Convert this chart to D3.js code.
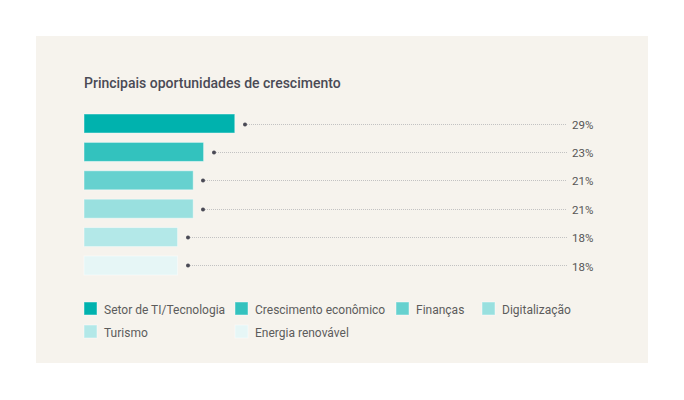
<!DOCTYPE html>
<html>
<head>
<meta charset="utf-8">
<script src="https://cdn.jsdelivr.net/npm/d3@7"></script>
<style>
  html, body { margin: 0; padding: 0; background: #fff; }
  svg { display: block; font-family: Roboto, "Noto Sans", sans-serif; }
  .title { font-size: 14px; font-weight: 500; fill: #4a4a55; }
  .value { font-size: 11.5px; fill: #555; }
  .legend text { font-size: 12px; fill: #5c5c5c; }
</style>
</head>
<body>
<svg class="chart" width="684" height="400"></svg>
<script>
(function () {
  "use strict";

  const categories = ["Setor de TI/Tecnologia", "Crescimento econômico", "Finanças", "Digitalização", "Turismo", "Energia renovável"];
  const values = [29, 23, 21, 21, 18, 18];
  const colors = ["#00b2ae", "#33c2be", "#66d1cf", "#99e0df", "#b3e8e8", "#e6f6f6"];
  const title = "Principais oportunidades de crescimento";

  const svg = d3.select(".chart");
  const data = categories.map((c, i) => ({ name: c, value: values[i], color: colors[i] }));

  // panel
  svg.append("rect")
    .attr("x", 36).attr("y", 36)
    .attr("width", 612).attr("height", 327)
    .attr("fill", "#f6f3ed");

  svg.append("text")
    .attr("class", "title")
    .attr("x", 84).attr("y", 88)
    .text(title);

  const x = d3.scaleLinear().domain([0, 100]).range([84, 604]);
  const y = d3.scaleBand()
    .domain(categories)
    .range([114, 275])
    .paddingInner(0.33)
    .paddingOuter(0);

  const lineEnd = 567;
  const mid = d => Math.round(y(d.name) + y.bandwidth() / 2) + 0.5;

  const rows = svg.selectAll(".row")
    .data(data)
    .join("g")
    .attr("class", "row");

  rows.append("rect")
    .attr("x", x(0))
    .attr("y", d => y(d.name))
    .attr("width", d => x(d.value) - x(0))
    .attr("height", y.bandwidth())
    .attr("fill", d => d.color)
    .attr("stroke", "rgba(255,255,255,0.45)")
    .attr("stroke-width", 1);

  rows.append("line")
    .attr("x1", d => Math.round(x(d.value) + 10))
    .attr("x2", lineEnd)
    .attr("y1", mid)
    .attr("y2", mid)
    .attr("stroke", "#c2c2c2")
    .attr("stroke-width", 1)
    .attr("stroke-dasharray", "1,1")
    .attr("shape-rendering", "crispEdges");

  rows.append("circle")
    .attr("cx", d => Math.round(x(d.value) + 10))
    .attr("cy", mid)
    .attr("r", 2)
    .attr("fill", "#4a4a55");

  rows.append("text")
    .attr("class", "value")
    .attr("x", lineEnd + 5)
    .attr("y", d => y(d.name) + y.bandwidth() / 2 + 1)
    .attr("dy", "0.35em")
    .text(d => d.value + "%");

  // legend laid out as a grid
  const legendCols = [84, 235, 396, 482];
  const legendRows = [302, 325];
  const legend = svg.append("g").attr("class", "legend");
  const items = legend.selectAll("g")
    .data(data)
    .join("g")
    .attr("transform", (d, i) => `translate(${legendCols[i % 4]},${legendRows[Math.floor(i / 4)]})`);

  items.append("rect")
    .attr("width", 13).attr("height", 13)
    .attr("fill", d => d.color)
    .attr("stroke", "rgba(255,255,255,0.45)");

  items.append("text")
    .attr("x", 20)
    .attr("y", 8)
    .attr("dy", "0.35em")
    .text(d => d.name);
})();
</script>
</body>
</html>
